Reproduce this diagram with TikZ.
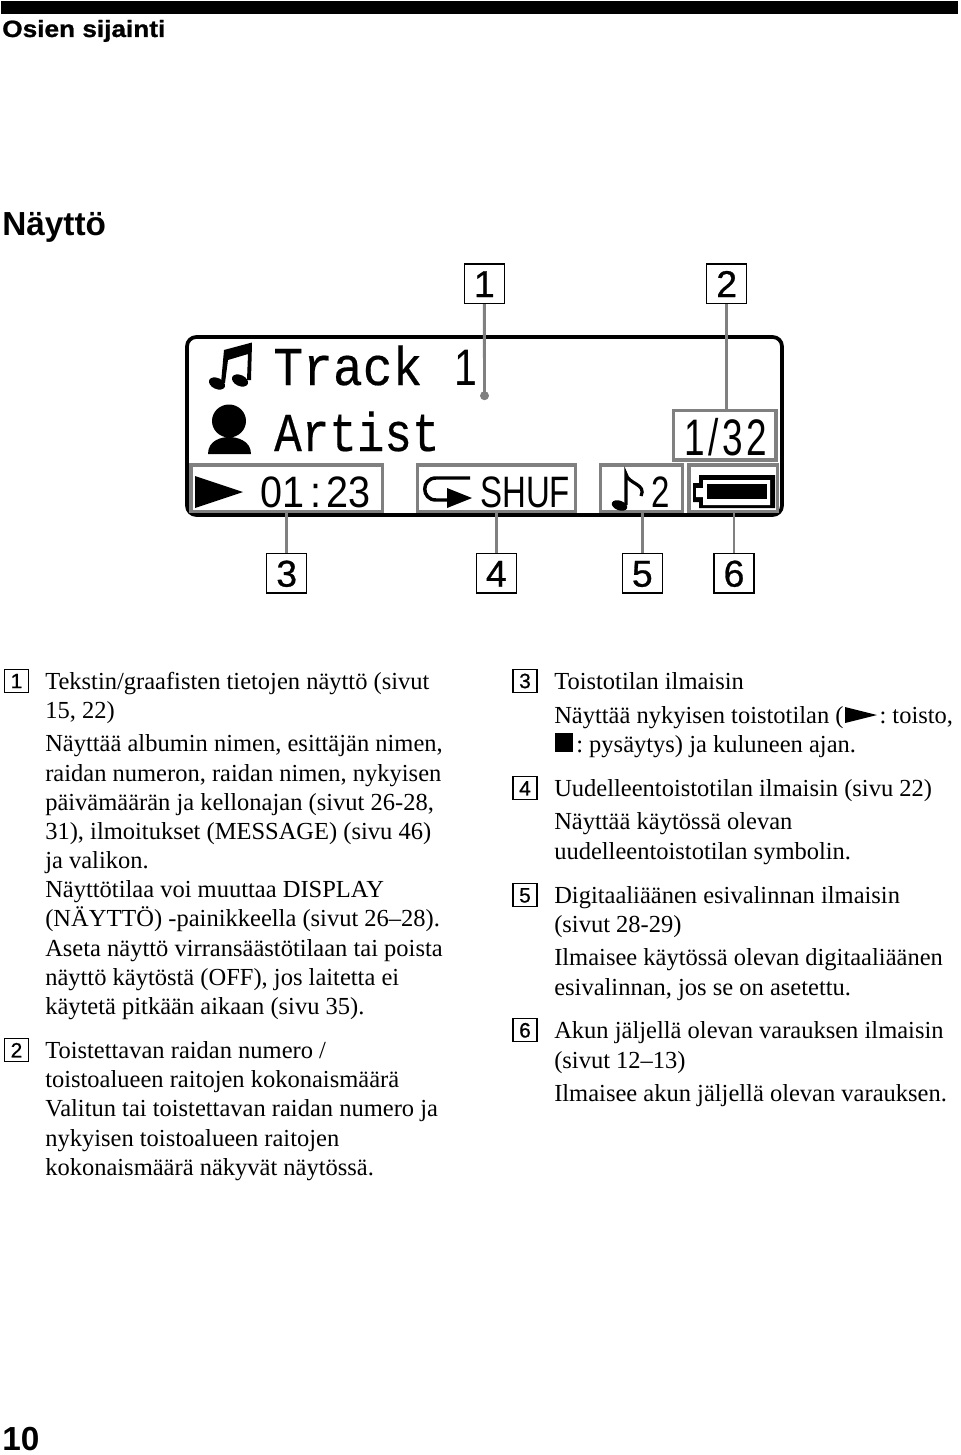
\documentclass[tikz,border=0pt]{standalone}
\usepackage{fontspec}
\setmainfont{Liberation Serif}
\setsansfont{Liberation Sans}
\setmonofont{Liberation Mono}
\newfontfamily\heavyfont[FakeBold=1.0]{Liberation Sans Bold}
\newfontfamily\calloutfont[FakeBold=0.7]{Liberation Sans}
\newfontfamily\lcdfont[FakeBold=0.35]{Liberation Mono}
\newcounter{tl}
\newcommand{\tl}[3]{\stepcounter{tl}\node[bodytext] (line\thetl) at (#1,#2) {#3};}
\tikzset{
 x=0.75pt,y=-0.75pt,
 bodytext/.style={anchor=base west,inner sep=0pt,font=\frenchspacing\fontsize{18.38}{20}\selectfont},
 callout/.style={draw=black,line width=1.1pt,minimum width=30pt,minimum height=29.5pt,inner sep=0pt,text height=20pt,text depth=0pt,font=\calloutfont\fontsize{28}{28}\selectfont},
 smallbox/.style={draw=black,line width=0.8pt,minimum width=18pt,minimum height=17pt,inner sep=0pt,text height=11.2pt,text depth=0pt,font=\calloutfont\fontsize{15.6}{16}\selectfont},
 indicator/.style={draw=black!50,line width=2.4pt,inner sep=0pt},
 leader/.style={draw=black!50,line width=2.2pt},
 lcd/.style={anchor=base west,inner sep=0pt,font=\lcdfont\fontsize{41}{41}\selectfont},
 lcdsans/.style={anchor=base west,inner sep=0pt,font=\sffamily\fontsize{33}{33}\selectfont},
}
\begin{document}
\begin{tikzpicture}
\useasboundingbox (0,0) rectangle (960,1455);
\fill[white] (0,0) rectangle (960,1455);
\fill[black] (1,1) rectangle (958,14);
\node[anchor=base west,inner sep=0pt,xscale=1.11,font=\heavyfont\fontsize{17.7}{18}\selectfont] (head) at (2,37) {Osien sijainti};
\node[anchor=base west,inner sep=0pt,font=\sffamily\bfseries\fontsize{25}{25}\selectfont] (title) at (2,236) {Näyttö};
\node[anchor=base west,inner sep=0pt,font=\sffamily\bfseries\fontsize{25}{25}\selectfont] (pageno) at (2,1450.5) {10};
% display
\draw[line width=2.8pt,rounded corners=7pt] (187,337) rectangle (782,515);
\node[lcd,xscale=.91] (track) at (273,385) {Track};
\node[lcdsans,xscale=.8,font=\sffamily\fontsize{38.5}{38.5}\selectfont] (trackno) at (454,385) {1};
\node[lcd,xscale=.84] (artist) at (274,451) {Artist};
% note icon
\fill (217,383.5) ellipse[x radius=8.5,y radius=5.5,rotate=-25];
\fill (240,380.5) ellipse[x radius=8.5,y radius=5.5,rotate=-25];
\fill (221,383) -- (224,350) -- (252,342.5) -- (251,380) -- (247,380) -- (248,354) -- (228,360) -- (225,383) -- cycle;
% person icon
\fill (229,421) ellipse[x radius=17,y radius=16.5];
\fill (208,454) .. controls (208,440) and (222,437) .. (229,437) .. controls (236,437) and (251,440) .. (251,454) -- cycle;
% indicators
\node[indicator,minimum width=143.5pt,minimum height=35pt] (bplay) at (286.7,488.3) {};
\node[indicator,minimum width=118.8pt,minimum height=35pt] (brep) at (496.5,488.3) {};
\node[indicator,minimum width=61.5pt,minimum height=35pt] (bdsp) at (641.7,488.3) {};
\node[indicator,minimum width=66.5pt,minimum height=35pt] (bbat) at (733.3,488.3) {};
\node[indicator,minimum width=77pt,minimum height=37pt] (bnum) at (724.7,435.3) {};
\fill (195,476) -- (243,492) -- (195,508) -- cycle;
\node[lcdsans,xscale=.9] (time) at (260,507) {01\kern5pt:\kern4pt 23};
% repeat icon
\draw[line width=2.6pt] (470,478) -- (436,478) .. controls (421,478) and (421,500) .. (436,500) -- (447,500);
\fill (447,488) -- (472,498) -- (447,508) -- cycle;
\node[lcdsans,xscale=.75] (shuf) at (480,507) {SHUF};
% small note
\fill (619.5,505.5) ellipse[x radius=8,y radius=4.8,rotate=-20];
\draw[line width=2.4pt] (626,505) -- (626,474) .. controls (628,484) and (647,484) .. (641,496);
\node[lcdsans,xscale=.75] (dsp) at (651,507) {2};
% battery
\fill (699,475) -- (775,475) -- (775,508) -- (699,508) -- (699,502) -- (693,502) -- (693,483) -- (699,483) -- cycle;
\fill[white] (703,480) -- (770,480) -- (770,505) -- (703,505) -- (703,497) -- (696,497) -- (696,488) -- (703,488) -- cycle;
\fill (707,484) rectangle (767,499);
\node[lcdsans,xscale=.72,font=\sffamily\fontsize{38.5}{38.5}\selectfont] (num) at (684,455) {1\kern4pt/\kern4pt 3\kern3pt 2};
% callouts
\node[callout] (c1) at (484.4,283.7) {1};
\node[callout] (c2) at (726.7,283.7) {2};
\node[callout] (c3) at (286.7,573.3) {3};
\node[callout] (c4) at (496.4,573.3) {4};
\node[callout] (c5) at (642.3,573.3) {5};
\node[callout] (c6) at (734,573.3) {6};
\coordinate (dot) at (484.5,395.7);
\fill[black!50] (dot) circle[radius=4.5];
\draw[leader] (c1.south) -- (dot);
\draw[leader] (c2.south) -- (c2.south |- bnum.north);
\draw[leader] (c3.north) -- (c3.north |- bplay.south);
\draw[leader] (c4.north) -- (c4.north |- brep.south);
\draw[leader] (c5.north) -- (c5.north |- bdsp.south);
\draw[leader] (c6.north) -- (c6.north |- bbat.south);
% left column
\node[smallbox] (s1) at (16.5,680.7) {1};
\tl{45}{689}{Tekstin/graafisten tietojen näyttö (sivut}
\tl{45}{718}{15, 22)}
\tl{45}{751}{Näyttää albumin nimen, esittäjän nimen,}
\tl{45}{781}{raidan numeron, raidan nimen, nykyisen}
\tl{45}{810}{päivämäärän ja kellonajan (sivut 26-28,}
\tl{45}{839}{31), ilmoitukset (MESSAGE) (sivu 46)}
\tl{45}{868}{ja valikon.}
\tl{45}{897}{Näyttötilaa voi muuttaa DISPLAY}
\tl{45}{926}{(NÄYTTÖ) -painikkeella (sivut 26–28).}
\tl{45}{956}{Aseta näyttö virransäästötilaan tai poista}
\tl{45}{985}{näyttö käytöstä (OFF), jos laitetta ei}
\tl{45}{1014}{käytetä pitkään aikaan (sivu 35).}
\node[smallbox] (s2) at (16.5,1050) {2};
\tl{45}{1058}{Toistettavan raidan numero /}
\tl{45}{1087}{toistoalueen raitojen kokonaismäärä}
\tl{45}{1116}{Valitun tai toistettavan raidan numero ja}
\tl{45}{1146}{nykyisen toistoalueen raitojen}
\tl{45}{1175}{kokonaismäärä näkyvät näytössä.}
% right column
\node[smallbox] (s3) at (525,680.7) {3};
\tl{554}{689}{Toistotilan ilmaisin}
\tl{554}{723}{Näyttää nykyisen toistotilan (\hspace{27pt}: toisto,}
\tl{554}{752}{\hspace{16.5pt}: pysäytys) ja kuluneen ajan.}
\fill (845,707) -- (877,715) -- (845,723) -- cycle;
\fill (555,733) rectangle (573,752);
\node[smallbox] (s4) at (525,788) {4};
\tl{554}{796}{Uudelleentoistotilan ilmaisin (sivu 22)}
\tl{554}{829}{Näyttää käytössä olevan}
\tl{554}{859}{uudelleentoistotilan symbolin.}
\node[smallbox] (s5) at (525,895) {5};
\tl{554}{903}{Digitaaliäänen esivalinnan ilmaisin}
\tl{554}{932}{(sivut 28-29)}
\tl{554}{965}{Ilmaisee käytössä olevan digitaaliäänen}
\tl{554}{995}{esivalinnan, jos se on asetettu.}
\node[smallbox] (s6) at (525,1030) {6};
\tl{554}{1038}{Akun jäljellä olevan varauksen ilmaisin}
\tl{554}{1068}{(sivut 12–13)}
\tl{554}{1101}{Ilmaisee akun jäljellä olevan varauksen.}
\end{tikzpicture}
\end{document}
